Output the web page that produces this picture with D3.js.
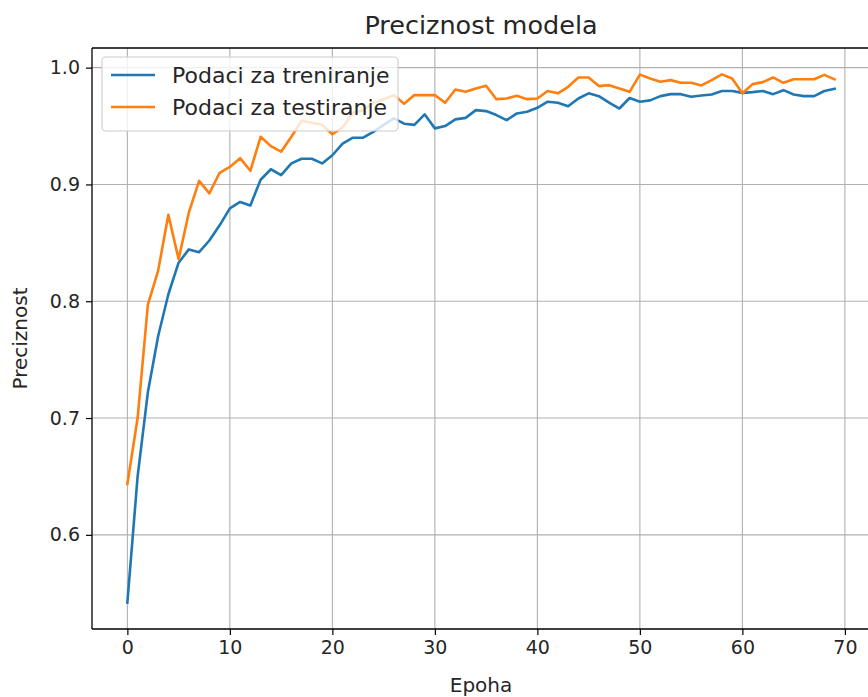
<!DOCTYPE html>
<html>
<head>
<meta charset="utf-8">
<script src="https://cdn.jsdelivr.net/npm/d3@7"></script>
<style>
  html, body { margin: 0; padding: 0; background: #fff; }
  svg { display: block; font-family: "DejaVu Sans", sans-serif; }
</style>
</head>
<body>
<svg id="chart" width="868" height="697"></svg>
<script>
// ---- data ----
const epochs = d3.range(0, 70);
const trainAcc = [0.542,0.650,0.722,0.770,0.806,0.833,0.8444,0.842,0.852,0.865,
  0.8795,0.885,0.882,0.904,0.913,0.908,0.918,0.922,0.922,0.918,
  0.925,0.935,0.940,0.940,0.945,0.951,0.9565,0.952,0.951,0.960,
  0.948,0.950,0.9557,0.957,0.9636,0.9628,0.9594,0.955,0.9608,0.9622,
  0.9656,0.9708,0.970,0.967,0.9736,0.978,0.9756,0.970,0.965,0.974,
  0.9708,0.972,0.9756,0.9773,0.9773,0.975,0.9762,0.977,0.980,0.980,
  0.9784,0.979,0.980,0.9773,0.9807,0.977,0.9756,0.9756,0.980,0.9819];
const testAcc = [0.6436,0.700,0.797,0.826,0.874,0.836,0.876,0.903,0.8924,0.910,
  0.915,0.9225,0.9117,0.9408,0.9328,0.928,0.9408,0.9545,0.9528,0.951,
  0.943,0.9488,0.9613,0.9636,0.970,0.9728,0.9765,0.9690,0.9765,0.9765,
  0.9765,0.970,0.9813,0.9793,0.9822,0.9845,0.973,0.9736,0.9759,0.973,
  0.9736,0.980,0.978,0.9836,0.9916,0.9916,0.9842,0.985,0.9822,0.9793,
  0.994,0.9907,0.9879,0.9893,0.987,0.987,0.9848,0.9893,0.9942,0.9907,
  0.978,0.9859,0.9876,0.9916,0.987,0.990,0.990,0.990,0.9938,0.990];
const xTicks = [0, 10, 20, 30, 40, 50, 60, 70];
const yTicks = [0.6, 0.7, 0.8, 0.9, 1.0];
const seriesNames = ["Podaci za treniranje", "Podaci za testiranje"];
const seriesColors = ["#1f77b4", "#ff7f0e"];
const titleText = "Preciznost modela";
const xLabel = "Epoha";
const yLabel = "Preciznost";

(function () {
// ---- layout ----
const svg = d3.select("#chart");
const pl = 92, pr = 870, pt = 48, pb = 629;

const xMin = d3.min(epochs), xMax = d3.max(epochs);
const xPad = (xMax - xMin) * 0.05;
const x = d3.scaleLinear().domain([xMin - xPad, xMax + xPad]).range([pl, pr]);

const allY = trainAcc.concat(testAcc);
const yMin = d3.min(allY), yMax = d3.max(allY);
const yPad = (yMax - yMin) * 0.05;
const y = d3.scaleLinear().domain([yMin - yPad, yMax + yPad]).range([pb, pt]);

// clip
svg.append("defs").append("clipPath").attr("id", "plotclip")
  .append("rect").attr("x", pl).attr("y", pt).attr("width", pr - pl).attr("height", pb - pt);

// grid
const grid = svg.append("g");
grid.selectAll("line.gx").data(xTicks).enter().append("line")
  .attr("x1", d => x(d)).attr("x2", d => x(d)).attr("y1", pt).attr("y2", pb)
  .attr("stroke", "#b0b0b0").attr("stroke-width", 1.1);
grid.selectAll("line.gy").data(yTicks).enter().append("line")
  .attr("x1", pl).attr("x2", pr).attr("y1", d => y(d)).attr("y2", d => y(d))
  .attr("stroke", "#b0b0b0").attr("stroke-width", 1.1);

// lines
const line = d3.line().x((d, i) => x(epochs[i])).y(d => y(d));
const plot = svg.append("g").attr("clip-path", "url(#plotclip)");
[trainAcc, testAcc].forEach((s, k) => {
  plot.append("path").datum(s).attr("d", line)
    .attr("fill", "none").attr("stroke", seriesColors[k]).attr("stroke-width", 2.6)
    .attr("stroke-linejoin", "round").attr("stroke-linecap", "square");
});

// axes
const xAxis = d3.axisBottom(x).tickValues(xTicks).tickSize(6).tickPadding(6).tickFormat(d3.format("d"));
const yAxis = d3.axisLeft(y).tickValues(yTicks).tickSize(6).tickPadding(6).tickFormat(d3.format(".1f"));
const gx = svg.append("g").attr("transform", `translate(0,${pb})`).call(xAxis);
const gy = svg.append("g").attr("transform", `translate(${pl},0)`).call(yAxis);
[gx, gy].forEach(g => {
  g.select(".domain").remove();
  g.selectAll(".tick line").attr("stroke", "#000").attr("stroke-width", 1.2);
  g.selectAll(".tick text").attr("fill", "#262626").attr("font-size", 19).attr("font-family", "DejaVu Sans");
});
// spines
[[pl, pt, pl, pb], [pl, pb, pr, pb], [pl, pt, pr, pt], [pr, pt, pr, pb]].forEach(s => {
  svg.append("line").attr("x1", s[0]).attr("y1", s[1]).attr("x2", s[2]).attr("y2", s[3])
    .attr("stroke", "#000").attr("stroke-width", 1.3);
});

// titles
svg.append("text").attr("x", (pl + pr) / 2).attr("y", 34).attr("text-anchor", "middle")
  .attr("font-size", 25.5).attr("fill", "#262626").text(titleText);
svg.append("text").attr("x", (pl + pr) / 2).attr("y", 692).attr("text-anchor", "middle")
  .attr("font-size", 20).attr("fill", "#262626").text(xLabel);
svg.append("text").attr("transform", `translate(27,${(pt + pb) / 2}) rotate(-90)`)
  .attr("text-anchor", "middle").attr("font-size", 20).attr("fill", "#262626").text(yLabel);

// legend
const lg = svg.append("g");
lg.append("rect").attr("x", 102).attr("y", 57).attr("width", 296).attr("height", 74)
  .attr("rx", 4).attr("fill", "#fff").attr("fill-opacity", 0.8).attr("stroke", "#cccccc").attr("stroke-width", 1.1);
seriesNames.forEach((n, k) => {
  const yy = 75 + k * 32;
  lg.append("line").attr("x1", 111).attr("x2", 155).attr("y1", yy).attr("y2", yy)
    .attr("stroke", seriesColors[k]).attr("stroke-width", 2.6);
  lg.append("text").attr("x", 172).attr("y", yy + 7.5).attr("font-size", 22)
    .attr("fill", "#262626").text(n);
});
})();
</script>
</body>
</html>
